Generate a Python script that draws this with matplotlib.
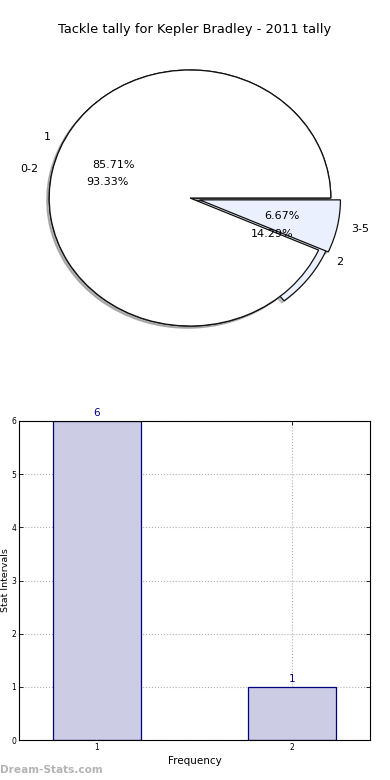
import matplotlib
matplotlib.use('Agg')
import matplotlib.pyplot as plt

# pie data: outer ring = stat intervals, inner = frequencies
outerLabels = ['0-2', '3-5']
outerValues = [93.33, 6.67]
innerLabels = ['1', '2']
innerValues = [85.71, 14.29]
pieColors = ['#ffffff', '#eaf0fd']

# bar data
barCats = [1, 2]
barCounts = [6, 1]

fig = plt.figure(figsize=(3.9, 7.8), dpi=100)
fig.text(0.5, 1 - 30 / 780, 'Tackle tally for Kepler Bradley - 2011 tally',
         ha='center', va='center', fontsize=9.4)

axPie = fig.add_axes([14 / 390, 1 - 358 / 780, 352 / 390, 320 / 780])
wedgeStyle = {'edgecolor': '#111111', 'linewidth': 0.9}
shadowStyle = {'ox': -0.012, 'oy': -0.012, 'shade': 0.4}
axPie.pie(innerValues, labels=innerLabels, colors=pieColors, explode=[0, 0.05],
          autopct='%1.2f%%', shadow=shadowStyle, wedgeprops=wedgeStyle,
          textprops={'fontsize': 8})
axPie.pie(outerValues, labels=outerLabels, colors=pieColors, explode=[0, 0.07],
          autopct='%1.2f%%', shadow=shadowStyle, wedgeprops=wedgeStyle,
          textprops={'fontsize': 8})
axPie.set_aspect('auto')
axPie.set_xlim(-1.25, 1.25)
axPie.set_ylim(-1.25, 1.25)

axBar = fig.add_axes([19 / 390, 40 / 780, 351 / 390, 319 / 780])
bars = axBar.bar(barCats, barCounts, width=0.45, color='#ccccE5',
                 edgecolor='#000080', linewidth=0.9, zorder=2)
for b, c in zip(bars, barCounts):
    axBar.text(b.get_x() + b.get_width() / 2, c + 0.05, str(c), ha='center',
               va='bottom', color='#000080', fontsize=7.5)
axBar.set_xlim(0.6, 2.4)
axBar.set_ylim(0, 6)
axBar.set_xticks(barCats)
axBar.set_yticks(range(0, 7))
axBar.tick_params(direction='in', top=True, right=True, labelsize=5.5, length=3, width=0.6, pad=2)
axBar.grid(True, linestyle=':', color='#b0b0b0', linewidth=0.8, zorder=0)
axBar.set_axisbelow(True)
axBar.set_xlabel('Frequency', fontsize=7.5, labelpad=3)
axBar.set_ylabel('Stat Intervals', fontsize=6.8, va='center')
axBar.yaxis.set_label_coords(-13 / 351, 0.5)

fig.text(0.0, 1 - 770 / 780, 'Dream-Stats.com', ha='left', va='center',
         fontsize=7.6, fontweight='bold', color='#b4b4b4')

fig.savefig('out.png', dpi=100)
plt.close(fig)
